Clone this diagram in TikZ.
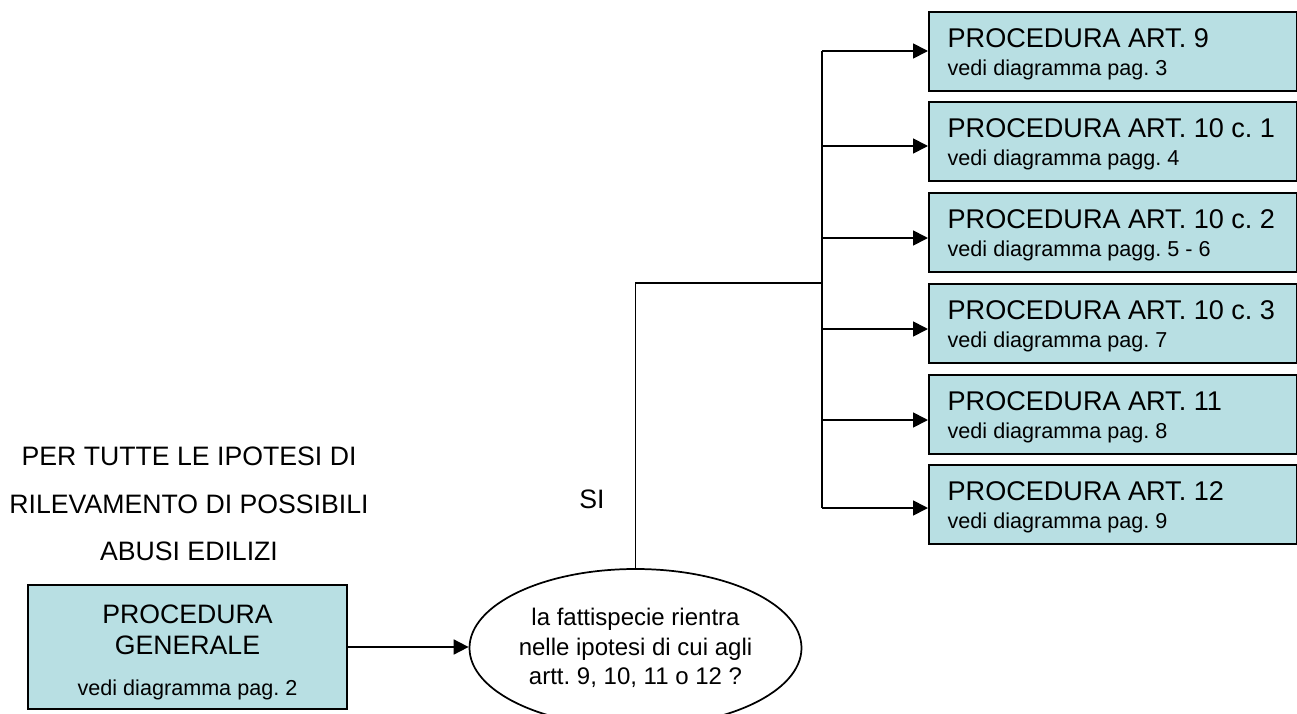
\documentclass[tikz,border=0pt]{standalone}
\usepackage{fontspec}
\setmainfont{Liberation Sans}
\usetikzlibrary{arrows.meta,shapes.geometric}
\definecolor{boxfill}{RGB}{184,223,227}
\newcommand{\bigtxt}{\fontsize{20}{23.25}\selectfont}
\newcommand{\smalltxt}{\fontsize{16.2}{21}\selectfont}
\newcommand{\plainsp}{\spaceskip=0pt\xspaceskip=0pt\relax}
\frenchspacing
\begin{document}
\begin{tikzpicture}[x=0.75pt,y=-0.75pt,
  procbox/.style={draw=black, line width=1.5pt, fill=boxfill, rectangle, inner sep=0pt},
  rbox/.style={procbox, anchor=north west, minimum height=59.25pt, text width=248pt, inner xsep=14pt,
               align=left, font=\fontsize{20.3}{21}\selectfont},
  link/.style={line width=1.3pt},
  arr/.style={link, -{Triangle[length=11.25pt,width=11.25pt]}}
]
\useasboundingbox (0,0) rectangle (1297,714);

% left title
\node[align=center, font=\fontsize{20}{35.6}\selectfont] (title) at (189,504)
  {PER TUTTE LE IPOTESI DI\\RILEVAMENTO DI POSSIBILI\\ABUSI EDILIZI};

% general procedure box
\node[procbox, minimum width=239.25pt, minimum height=93pt, align=center, font=\bigtxt] (gen) at (187.5,647)
  {\rule{0pt}{22pt}PROCEDURA\\GENERALE\\[7.5pt]\smalltxt vedi diagramma pag. 2};

% question ellipse
\node[ellipse, draw=black, line width=1.3pt, fill=white, minimum width=249pt, minimum height=118.5pt,
      inner sep=0pt, align=center, font=\fontsize{18}{22}\selectfont] (q) at (635.5,648)
  {la fattispecie rientra\\nelle ipotesi di cui agli\\artt. 9, 10, 11 o 12 ?};

\node[font=\bigtxt] (si) at (592,499) {SI};

% right boxes
\node[rbox] (b1) at (928,11)  {\plainsp\rule{0pt}{19pt}PROCEDURA ART. 9\\\smalltxt vedi diagramma pag. 3};
\node[rbox] (b2) at (928,101) {\plainsp\rule{0pt}{19pt}PROCEDURA ART. 10 c. 1\\\smalltxt vedi diagramma pagg. 4};
\node[rbox] (b3) at (928,192) {\plainsp\rule{0pt}{19pt}PROCEDURA ART. 10 c. 2\\\smalltxt vedi diagramma pagg. 5 - 6};
\node[rbox] (b4) at (928,283) {\plainsp\rule{0pt}{19pt}PROCEDURA ART. 10 c. 3\\\smalltxt vedi diagramma pag. 7};
\node[rbox] (b5) at (928,374) {\plainsp\rule{0pt}{19pt}PROCEDURA ART. 11\\\smalltxt vedi diagramma pag. 8};
\node[rbox] (b6) at (928,464) {\plainsp\rule{0pt}{19pt}PROCEDURA ART. 12\\\smalltxt vedi diagramma pag. 9};

% connectors
\draw[arr] (gen.east) -- (gen.east -| q.west);

\coordinate (split) at (822,283);
\coordinate (t1) at (822,51);
\coordinate (t2) at (822,146);
\coordinate (t3) at (822,238);
\coordinate (t4) at (822,329);
\coordinate (t5) at (822,420);
\coordinate (t6) at (822,508);

\draw[link] (q.north) -- (q.north |- split) -- (split);
\draw[link] (t1) -- (t6);
\draw[arr] (t1) -- (t1 -| b1.west);
\draw[arr] (t2) -- (t2 -| b2.west);
\draw[arr] (t3) -- (t3 -| b3.west);
\draw[arr] (t4) -- (t4 -| b4.west);
\draw[arr] (t5) -- (t5 -| b5.west);
\draw[arr] (t6) -- (t6 -| b6.west);
\end{tikzpicture}
\end{document}
